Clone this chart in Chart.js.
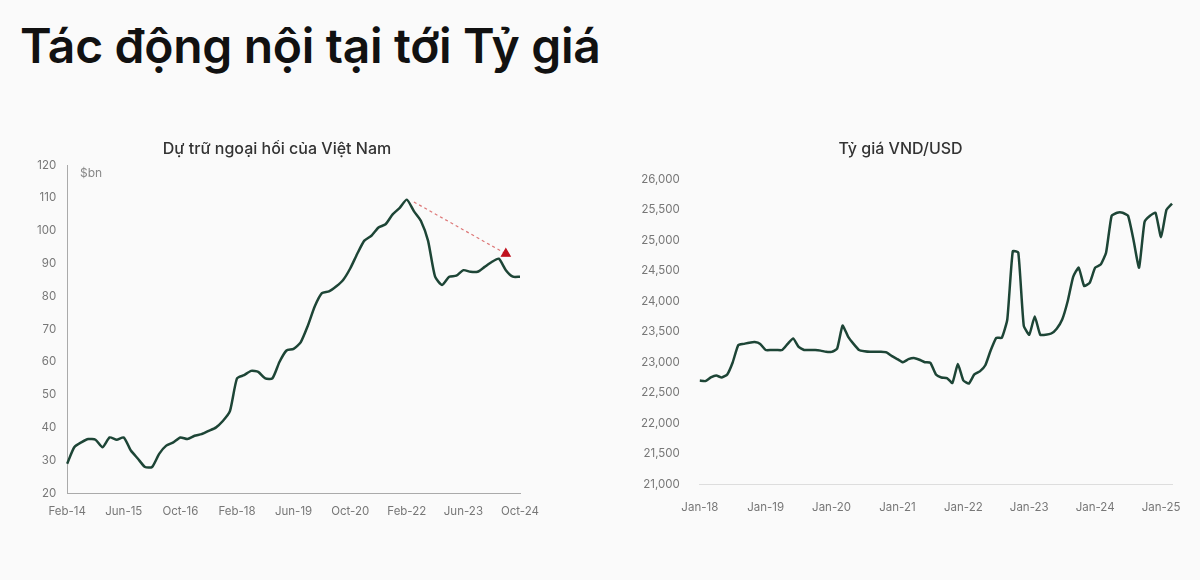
<!DOCTYPE html>
<html><head><meta charset="utf-8">
<script src="https://cdn.jsdelivr.net/npm/chart.js@4"></script>
<style>
body{margin:0;width:1200px;height:580px;background:#fafafa;font-family:Inter,"Noto Sans",sans-serif;position:relative;overflow:hidden}
h1{position:absolute;left:20px;top:16px;margin:0;font-size:48px;font-weight:600;color:#111;letter-spacing:-0.3px}
.box{position:absolute}
#unit{position:absolute;left:80px;top:165px;font-size:12px;color:#888}
</style></head><body>
<h1>Tác động nội tại tới Tỷ giá</h1>
<div class="box" style="left:20px;top:140px;width:570px;height:381px"><canvas id="left"></canvas></div>
<div class="box" style="left:615px;top:140px;width:575px;height:382px"><canvas id="right"></canvas></div>
<div id="unit">$bn</div>
<script>
const mon = ['Jan','Feb','Mar','Apr','May','Jun','Jul','Aug','Sep','Oct','Nov','Dec'];
// left: bimonthly, Feb-14 .. Oct-24
const reserveLabels = [];
for (let i = 0; i < 65; i++) { const m = 1 + 2*i; reserveLabels.push(mon[m%12] + '-' + (14 + Math.floor(m/12))); }
const reserveValues = [29,34,35.5,36.5,36.3,34,37,36.3,37,33,30.5,28,28,32,34.5,35.5,37,36.5,37.5,38,39,40,42,45,
  55,56,57.3,57,55,55,60,63.5,64,66,71,77,81,81.5,83,85,88.5,93,97,98.5,101,102,105,107,109.5,106,103,97,86,83.5,
  86,86.3,88,87.5,87.5,89,90.5,91.5,88,86,86];
const arrowFrom = {x:'Apr-22', y:108.8};
const arrowTo = {x:'Jun-24', y:93};
// right: monthly, Jan-18 .. Mar-25
const fxLabels = [];
for (let i = 0; i < 87; i++) fxLabels.push(mon[i%12] + '-' + (18 + Math.floor(i/12)));
const fxValues = [22700,22690,22750,22780,22750,22800,23000,23280,23300,23320,23330,23300,
  23200,23200,23200,23200,23300,23390,23250,23200,23200,23200,23190,23170,
  23170,23220,23600,23420,23300,23200,23180,23170,23170,23170,23160,23100,
  23050,23000,23050,23070,23040,23000,22990,22800,22750,22740,22660,22970,
  22700,22650,22800,22850,22950,23200,23400,23400,23700,24820,24800,23600,
  23450,23750,23450,23450,23470,23550,23700,24000,24400,24550,24250,24300,
  24550,24600,24800,25400,25450,25450,25400,25000,24550,25300,25400,25450,
  25050,25500,25600];

const green = '#1d4536';
const tickFont = {family:'Inter', size:11.5};
const titleOpt = (t, b) => ({display:true, text:t, color:'#333', font:{family:'Inter', size:16, weight:'500'}, padding:{top:0,bottom:b}});

new Chart(document.getElementById('left'), {
  type:'line',
  data:{labels:reserveLabels, datasets:[
    {data:reserveValues, borderColor:green, borderWidth:2.5, pointRadius:0, tension:0.2},
    {data:[arrowFrom, arrowTo], borderColor:'#d77', borderWidth:1.2, borderDash:[3,3],
     pointRadius:[0,5], pointStyle:'triangle', pointBackgroundColor:'#c0121e', pointBorderColor:'#c0121e'}
  ]},
  options:{responsive:true, maintainAspectRatio:false, animation:false,
    layout:{padding:{left:14, right:70}},
    plugins:{legend:{display:false}, tooltip:{enabled:false}, title:titleOpt('Dự trữ ngoại hối của Việt Nam', 6)},
    scales:{
      x:{grid:{display:false}, border:{color:'#aaa'},
         ticks:{autoSkip:false, maxRotation:0, color:'#777', font:tickFont, callback:(v,i)=> i%8===0 ? reserveLabels[i] : ''}},
      y:{min:20, max:120, grid:{display:false}, border:{color:'#aaa'},
         ticks:{stepSize:10, color:'#777', font:tickFont}}
    }}
});

new Chart(document.getElementById('right'), {
  type:'line',
  data:{labels:fxLabels, datasets:[{data:fxValues, borderColor:green, borderWidth:2.5, pointRadius:0, tension:0.15}]},
  options:{responsive:true, maintainAspectRatio:false, animation:false,
    layout:{padding:{left:14, right:18}},
    plugins:{legend:{display:false}, tooltip:{enabled:false}, title:titleOpt('Tỷ giá VND/USD', 20)},
    scales:{
      x:{grid:{display:false}, border:{color:'#ddd'},
         ticks:{autoSkip:false, maxRotation:0, color:'#777', font:tickFont, padding:8, callback:(v,i)=> i%12===0 ? fxLabels[i] : ''}},
      y:{min:21000, max:26000, grid:{display:false}, border:{display:false},
         ticks:{stepSize:500, color:'#777', font:tickFont, padding:12, callback:v=>v.toLocaleString('en-US')}}
    }}
});
</script>
</body></html>
